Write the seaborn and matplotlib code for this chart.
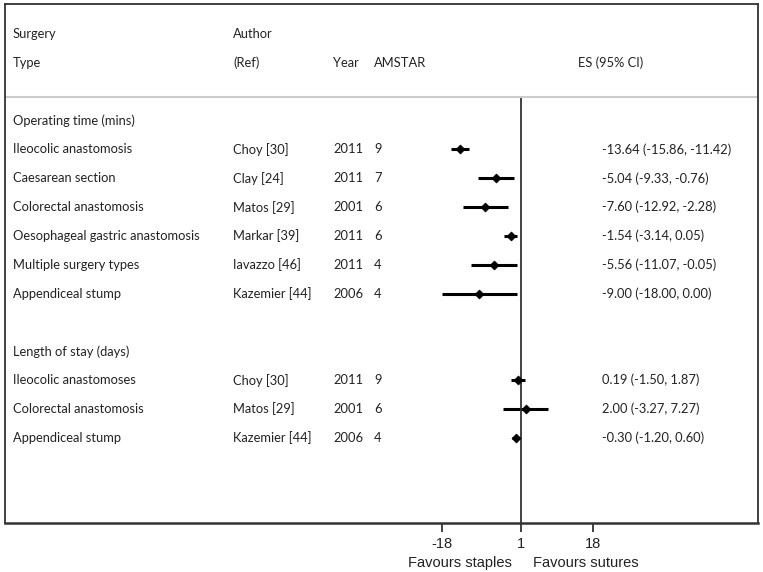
import matplotlib
matplotlib.use("Agg")
import matplotlib.pyplot as plt
import matplotlib.transforms as mtransforms
import seaborn as sns
import pandas as pd

# data
surgery = ["Ileocolic anastomosis", "Caesarean section", "Colorectal anastomosis",
           "Oesophageal gastric anastomosis", "Multiple surgery types", "Appendiceal stump",
           "Ileocolic anastomoses", "Colorectal anastomosis", "Appendiceal stump"]
author = ["Choy [30]", "Clay [24]", "Matos [29]", "Markar [39]", "Iavazzo [46]",
          "Kazemier [44]", "Choy [30]", "Matos [29]", "Kazemier [44]"]
year = [2011, 2011, 2001, 2011, 2011, 2006, 2011, 2001, 2006]
amstar = [9, 7, 6, 6, 4, 4, 9, 6, 4]
es = [-13.64, -5.04, -7.60, -1.54, -5.56, -9.00, 0.19, 2.00, -0.30]
lo = [-15.86, -9.33, -12.92, -3.14, -11.07, -18.00, -1.50, -3.27, -1.20]
hi = [-11.42, -0.76, -2.28, 0.05, -0.05, 0.00, 1.87, 7.27, 0.60]
row = [4, 5, 6, 7, 8, 9, 12, 13, 14]
groups = ["Operating time (mins)", "Length of stay (days)"]
group_row = [3, 11]
ticks = [-18, 1, 18]
null_x = 1

df = pd.DataFrame({"surgery": surgery, "author": author, "year": year, "amstar": amstar,
                   "es": es, "lo": lo, "hi": hi, "row": row})

sns.set_style("white")
plt.rcParams["font.family"] = ["Lato", "DejaVu Sans"]

fig = plt.figure(figsize=(7.63, 5.72), dpi=100)
ax = fig.add_axes([4.5 / 763, 1 - 522.7 / 572, 753.5 / 763, (522.7 - 4) / 572])

ax.hlines(df["row"], df["lo"], df["hi"], color="black", linewidth=2.2)
sns.scatterplot(data=df, x="es", y="row", marker="D", s=22, color="black",
                edgecolor="black", ax=ax, zorder=3)

ax.set_xlim(-122.4, 57.5)
ax.set_ylim(16.94, -1.04)
ax.axvline(null_x, ymin=0, ymax=1 - (2.18 + 1.04) / (16.94 + 1.04), color="#333333", linewidth=1.3)
ax.axhline(2.18, color="#cccccc", linewidth=1.5)

for s in ax.spines.values():
    s.set_color("#333333")
    s.set_linewidth(1.3)
ax.spines["bottom"].set_linewidth(1.8)

ax.set_xticks(ticks)
ax.set_xticklabels([str(t) for t in ticks], family="Liberation Sans", fontsize=10.5, color="#222222")
ax.tick_params(axis="x", bottom=True, length=6.5, width=1.3, color="#333333", pad=4)
ax.set_yticks([])
ax.set_xlabel("")
ax.set_ylabel("")

tr = mtransforms.blended_transform_factory(ax.transAxes, ax.transData)
fs = 9.3
col = "#222222"
x_surg, x_auth, x_year, x_am, x_es_head, x_es = 0.0113, 0.3033, 0.436, 0.4904, 0.761, 0.793

ax.text(x_surg, 0, "Surgery", transform=tr, va="center", fontsize=fs, color=col)
ax.text(x_auth, 0, "Author", transform=tr, va="center", fontsize=fs, color=col)
ax.text(x_surg, 1, "Type", transform=tr, va="center", fontsize=fs, color=col)
ax.text(x_auth, 1, "(Ref)", transform=tr, va="center", fontsize=fs, color=col)
ax.text(x_year, 1, "Year", transform=tr, va="center", fontsize=fs, color=col)
ax.text(x_am, 1, "AMSTAR", transform=tr, va="center", fontsize=fs, color=col)
ax.text(x_es_head, 1, "ES (95% CI)", transform=tr, va="center", fontsize=fs, color=col)

for g, r in zip(groups, group_row):
    ax.text(x_surg, r, g, transform=tr, va="center", fontsize=fs, color=col)

for _, d in df.iterrows():
    ax.text(x_surg, d["row"], d["surgery"], transform=tr, va="center", fontsize=fs, color=col)
    ax.text(x_auth, d["row"], d["author"], transform=tr, va="center", fontsize=fs, color=col)
    ax.text(x_year, d["row"], str(d["year"]), transform=tr, va="center", fontsize=fs, color=col)
    ax.text(x_am, d["row"], str(d["amstar"]), transform=tr, va="center", fontsize=fs, color=col)
    ax.text(x_es, d["row"], f"{d['es']:.2f} ({d['lo']:.2f}, {d['hi']:.2f})",
            transform=tr, va="center", fontsize=fs, color=col)

tr2 = mtransforms.blended_transform_factory(ax.transData, ax.transAxes)
ax.text(-13.65, -0.077, "Favours staples", transform=tr2, ha="center", va="center",
        family="Liberation Sans", fontsize=10.5, color=col)
ax.text(16.3, -0.077, "Favours sutures", transform=tr2, ha="center", va="center",
        family="Liberation Sans", fontsize=10.5, color=col)

fig.savefig("out.png", dpi=100)
